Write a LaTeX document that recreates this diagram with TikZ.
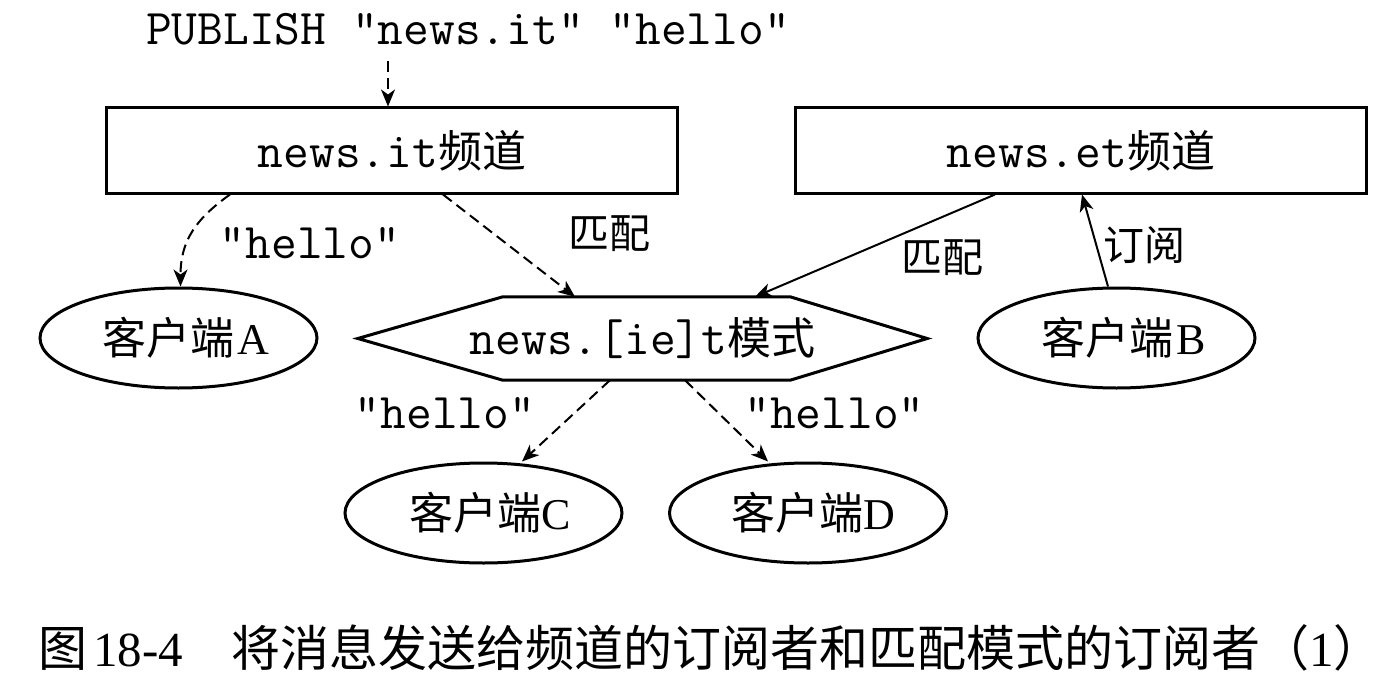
\documentclass[tikz,border=0pt]{standalone}
\usepackage{fontspec}
\setmainfont{Liberation Serif}
\newfontfamily\cjk{Noto Sans CJK SC}
\newcommand\cj[1]{{\cjk #1}}
\usetikzlibrary{arrows.meta,shapes.geometric}
\begin{document}
\begin{tikzpicture}[x=1pt,y=-1pt,
  line join=miter,
  mono/.style={font=\fontsize{50}{56}\selectfont\ttfamily, inner sep=0pt},
  cjklab/.style={font=\fontsize{41}{46}\selectfont\cjk, inner sep=0pt},
  chanbox/.style={draw, line width=3pt, minimum width=571pt, minimum height=85pt, inner sep=0pt, font=\fontsize{50}{56}\selectfont\ttfamily},
  client/.style={ellipse, draw, line width=3pt, minimum width=277pt, minimum height=100pt, inner sep=0pt, font=\fontsize{44}{50}\selectfont\cjk},
  conn/.style={line width=2pt, -{Stealth[length=17pt,width=14pt,inset=5pt]}},
  dconn/.style={conn, dash pattern=on 11pt off 6pt},
]
\useasboundingbox (0,0) rectangle (1395,682);

% top command
\node[mono, anchor=base] (pub) at (468,45) {PUBLISH "news.it" "hello"};

% channels
\node[chanbox] (itbox) at (392,150.5) {news.it\cj{\fontsize{44}{50}\selectfont 频道}\hspace{35pt}};
\node[chanbox] (etbox) at (1081,150.5) {news.et\cj{\fontsize{44}{50}\selectfont 频道}\hspace{22pt}};

% pattern (hexagon)
\node[inner sep=0pt, minimum width=569pt, minimum height=83pt, font=\fontsize{50}{56}\selectfont\ttfamily] (hex) at (642.5,338.5) {news.[ie]t\cj{\fontsize{44}{50}\selectfont 模式}\hspace{33pt}};
\draw[line width=3pt] (hex.west) -- ([xshift=145pt]hex.north west) -- ([xshift=-137pt]hex.north east) -- (hex.east) -- ([xshift=-137pt]hex.south east) -- ([xshift=145pt]hex.south west) -- cycle;

% clients
\node[client] (A) at (178.5,338) {\hspace{14pt}客户端\hspace{3pt}{\rmfamily A}};
\node[client] (B) at (1116.5,338) {\hspace{14pt}客户端\hspace{3pt}{\rmfamily B}};
\node[client] (C) at (483.5,513) {\hspace{14pt}客户端{\rmfamily C}};
\node[client] (D) at (808,513) {\hspace{10pt}客户端{\rmfamily D}};

% connectors
\draw[dconn] ([xshift=-80pt,yshift=-15pt]pub.south) -- ([xshift=-4pt]itbox.north);
\draw[dconn] ([xshift=-162pt]itbox.south) .. controls +(-35,25) and +(0,-45) .. ([xshift=2pt]A.north);
\draw[dconn] ([xshift=51pt]itbox.south) -- ([xshift=-67.5pt]hex.north);
\draw[conn] ([xshift=-86pt]etbox.south) -- ([xshift=112.5pt]hex.north);
\draw[conn] ([xshift=-8.5pt]B.north) -- ([xshift=1pt]etbox.south);
\draw[dconn] ([xshift=-32.5pt]hex.south) -- ([xshift=38.5pt]C.north);
\draw[dconn] ([xshift=42.5pt]hex.south) -- ([xshift=-40pt]D.north);

% labels
\node[mono, anchor=base] (h1) at (310,258) {"hello"};
\node[cjklab] (m1) at (609,234) {匹配};
\node[cjklab] (m2) at (942,258) {匹配};
\node[cjklab] (s1) at (1144,245) {订阅};
\node[mono, anchor=base] (h2) at (445,428) {"hello"};
\node[mono, anchor=base] (h3) at (834.5,428) {"hello"};

% caption
\node[anchor=base west, inner sep=0pt, font=\fontsize{49}{55}\selectfont] (cap) at (38,666) {\cj{图}\hspace{6pt}18-4\hspace{48pt}\cj{将消息发送给频道的订阅者和匹配模式的订阅者（}1\cj{）}};
\end{tikzpicture}
\end{document}
